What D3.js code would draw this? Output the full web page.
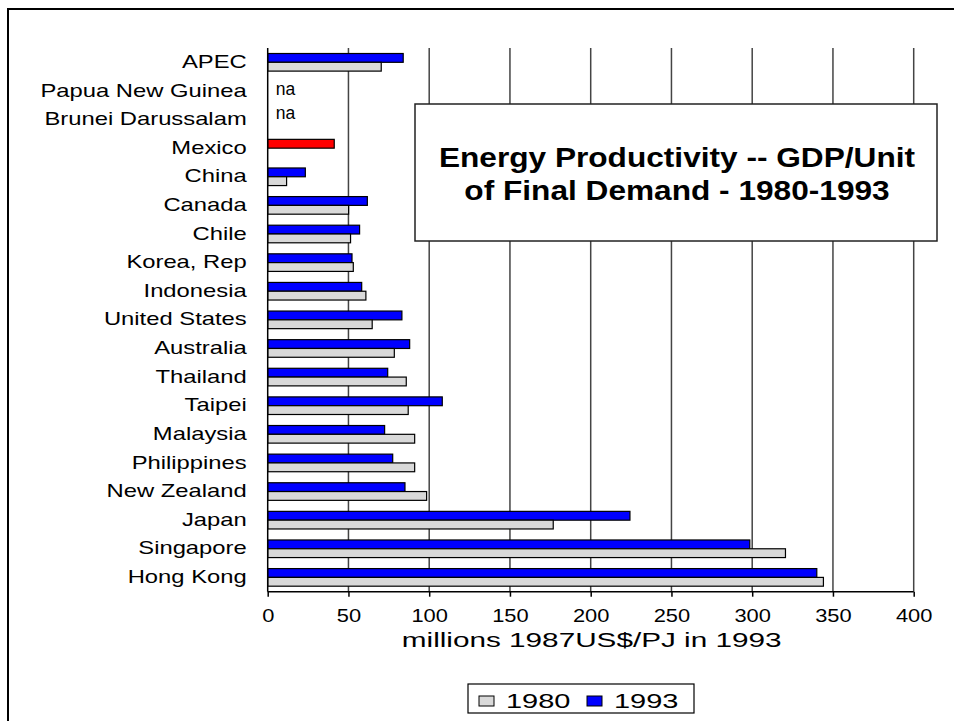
<!DOCTYPE html>
<html>
<head>
<meta charset="utf-8">
<script src="https://cdn.jsdelivr.net/npm/d3@7"></script>
<style>
  html, body { margin: 0; padding: 0; background: #fff; }
  svg { display: block; }
  text { font-family: "Liberation Sans", Arial, sans-serif; fill: #000; }
</style>
</head>
<body>
<div id="chart"></div>
<script>
// Economies, listed top to bottom
const categories = [
  "APEC", "Papua New Guinea", "Brunei Darussalam", "Mexico", "China", "Canada",
  "Chile", "Korea, Rep", "Indonesia", "United States", "Australia", "Thailand",
  "Taipei", "Malaysia", "Philippines", "New Zealand", "Japan", "Singapore", "Hong Kong"
];
// GDP per unit of final energy demand (millions 1987 US$ / PJ); null = not available
const values1980 = [
  70.3, null, null, null, 11.7, 50.1,
  51.3, 53.0, 60.8, 64.7, 78.4, 85.8,
  87.0, 91.0, 91.0, 98.4, 176.8, 320.6, 344.1
];
const values1993 = [
  83.9, null, null, 41.2, 23.3, 61.7,
  56.9, 52.2, 58.2, 83.1, 87.9, 74.3,
  108.1, 72.4, 77.4, 85.0, 224.3, 298.5, 340.0
];
const seriesNames = ["1980", "1993"];
const naCategories = ["Papua New Guinea", "Brunei Darussalam"];
const highlighted = ["Mexico"];
const xTicks = [0, 50, 100, 150, 200, 250, 300, 350, 400];
const xTitle = "millions 1987US$/PJ in 1993";
const titleLines = ["Energy Productivity -- GDP/Unit", "of Final Demand - 1980-1993"];

const W = 954, H = 721;
const plot = { left: 267.7, right: 913.7, top: 48, bottom: 591.7 };
const colors = { "1980": "#d9d9d9", "1993": "#0000ff", highlight: "#ff0000" };

// widen glyphs horizontally around each text's own x anchor
function stretch(sel, sx) {
  sel.each(function () {
    const t = d3.select(this);
    const x0 = +t.attr("x") || 0;
    t.attr("transform", `translate(${x0},0) scale(${sx},1) translate(${-x0},0)`);
  });
}

const svg = d3.select("#chart").append("svg").attr("width", W).attr("height", H);

// outer chart frame
svg.append("rect")
  .attr("x", 8).attr("y", 9).attr("width", 980).attr("height", 740)
  .attr("fill", "#fff").attr("stroke", "#000").attr("stroke-width", 2);

const x = d3.scaleLinear().domain([0, 400]).range([plot.left, plot.right]);
const y = d3.scaleBand().domain(categories).range([plot.top, plot.bottom])
  .paddingInner(0.385).paddingOuter(0.1925);
const ySeries = d3.scaleBand().domain(["1993", "1980"]).range([0, y.bandwidth()]);

// vertical gridlines
svg.append("g").selectAll("line").data(xTicks.filter(t => t > 0)).join("line")
  .attr("x1", d => x(d)).attr("x2", d => x(d))
  .attr("y1", plot.top).attr("y2", plot.bottom)
  .attr("stroke", "#444").attr("stroke-width", 1.5);

// bars
const rows = categories.map((c, i) => ({ c, v1980: values1980[i], v1993: values1993[i] }));
const bars = [];
rows.forEach(r => {
  if (r.v1993 != null) bars.push({ c: r.c, s: "1993", v: r.v1993 });
  if (r.v1980 != null) bars.push({ c: r.c, s: "1980", v: r.v1980 });
});
svg.append("g").selectAll("rect").data(bars).join("rect")
  .attr("x", x(0))
  .attr("y", d => y(d.c) + ySeries(d.s))
  .attr("width", d => x(d.v) - x(0))
  .attr("height", ySeries.bandwidth())
  .attr("fill", d => highlighted.includes(d.c) ? colors.highlight : colors[d.s])
  .attr("stroke", "#000").attr("stroke-width", 1.2);

// "na" markers for economies with no data
svg.append("g").selectAll("text").data(naCategories).join("text")
  .attr("x", x(0) + 8)
  .attr("y", (d, i) => y(d) + ySeries("1993") + ySeries.bandwidth() / 2 + (i === 0 ? 2 : -2))
  .attr("dy", "0.35em")
  .attr("font-size", 17.5)
  .text("na");

// category axis
const yAxis = svg.append("g").attr("transform", `translate(${plot.left},0)`)
  .call(d3.axisLeft(y).tickSize(0).tickPadding(21));
yAxis.select(".domain").attr("stroke", "#000").attr("stroke-width", 1.5)
  .attr("d", `M0,${plot.top}V${plot.bottom}`);
yAxis.selectAll("text")
  .attr("font-size", 17.5)
  .attr("font-family", "Liberation Sans, Arial, sans-serif").attr("fill", "#000")
  .call(stretch, 1.36);

// value axis
const xAxis = svg.append("g").attr("transform", `translate(0,${plot.bottom})`)
  .call(d3.axisBottom(x).tickValues(xTicks).tickSize(5).tickPadding(13).tickFormat(d3.format("d")));
xAxis.select(".domain").attr("stroke", "#000").attr("stroke-width", 1.5)
  .attr("d", `M${plot.left},0H${plot.right}`);
xAxis.selectAll(".tick line").attr("stroke", "#000").attr("stroke-width", 1.5);
xAxis.selectAll("text")
  .attr("font-size", 17.5)
  .attr("font-family", "Liberation Sans, Arial, sans-serif").attr("fill", "#000")
  .call(stretch, 1.25);

svg.append("text")
  .attr("x", (plot.left + plot.right) / 2 + 1).attr("y", 640).attr("dy", "0.35em")
  .attr("text-anchor", "middle").attr("font-size", 20.5)
  .text(xTitle)
  .call(stretch, 1.45);

// title box
const tb = { x: 415, y: 104, w: 522, h: 137 };
svg.append("rect").attr("x", tb.x).attr("y", tb.y).attr("width", tb.w).attr("height", tb.h)
  .attr("fill", "#fff").attr("stroke", "#222").attr("stroke-width", 1.5);
svg.append("g").selectAll("text").data(titleLines).join("text")
  .attr("x", tb.x + tb.w / 2 + 1)
  .attr("y", (d, i) => 157 + i * 33).attr("dy", "0.35em")
  .attr("text-anchor", "middle").attr("font-size", 28).attr("font-weight", "bold")
  .text(d => d)
  .call(stretch, 1.13);

// legend
const lg = { x: 468, y: 684, w: 226, h: 29 };
svg.append("rect").attr("x", lg.x).attr("y", lg.y).attr("width", lg.w).attr("height", lg.h)
  .attr("fill", "#fff").attr("stroke", "#000").attr("stroke-width", 1.2);
const li = svg.append("g").selectAll("g").data(seriesNames).join("g")
  .attr("transform", (d, i) => `translate(${lg.x + 11 + i * 108},${lg.y})`);
li.append("rect").attr("x", 0).attr("y", 12).attr("width", 15).attr("height", 10)
  .attr("fill", d => colors[d]).attr("stroke", "#000").attr("stroke-width", 1);
li.append("text").attr("x", 27).attr("y", 16.5).attr("dy", "0.35em")
  .attr("font-size", 21)
  .text(d => d)
  .call(stretch, 1.38);
</script>
</body>
</html>
